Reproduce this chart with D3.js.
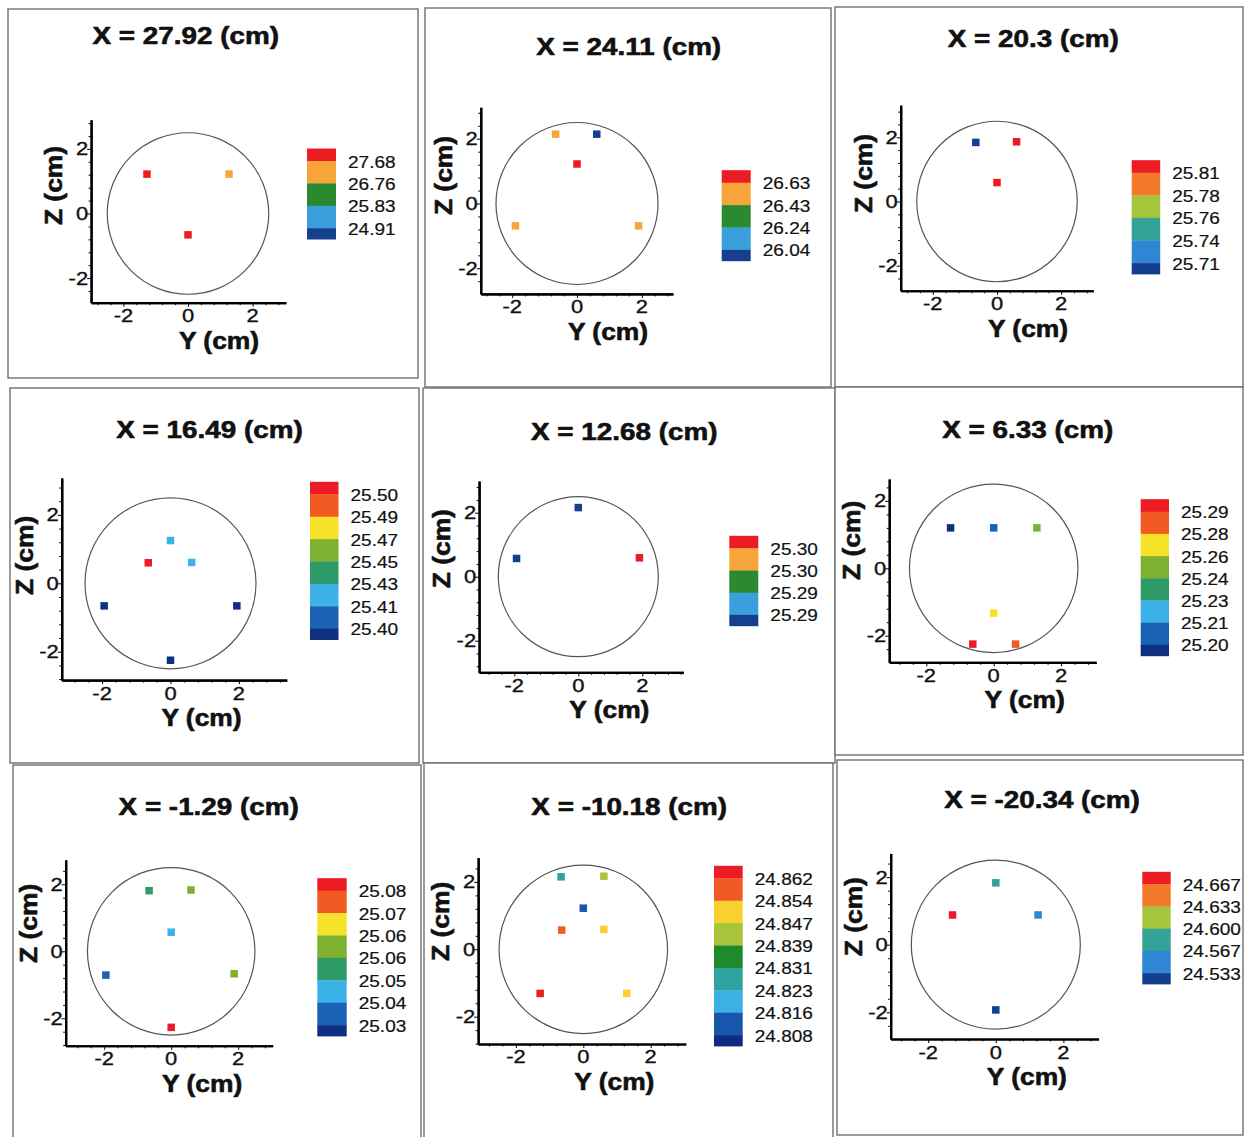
<!DOCTYPE html>
<html>
<head>
<meta charset="utf-8">
<script src="https://cdn.jsdelivr.net/npm/d3@7"></script>
<style>
  html, body { margin: 0; padding: 0; background: #ffffff; }
  svg { display: block; }
  text { font-family: "Liberation Sans", Arial, Helvetica, sans-serif; fill: #111; }
</style>
</head>
<body>
<svg id="chart" width="1249" height="1137"></svg>
<script>
// Axial station of each cross-section (cm)
const stationX = [27.92, 24.11, 20.3, 16.49, 12.68, 6.33, -1.29, -10.18, -20.34];

// Contour legend levels, top to bottom, and the decimals shown for each legend
const legendLevels = [
  [27.68, 26.76, 25.83, 24.91],
  [26.63, 26.43, 26.24, 26.04],
  [25.81, 25.78, 25.76, 25.74, 25.71],
  [25.502, 25.486, 25.467, 25.448, 25.429, 25.412, 25.401],
  [25.302, 25.297, 25.292, 25.287],
  [25.290, 25.276, 25.258, 25.243, 25.228, 25.213, 25.198],
  [25.081, 25.073, 25.064, 25.056, 25.047, 25.039, 25.030],
  [24.862, 24.854, 24.847, 24.839, 24.831, 24.823, 24.816, 24.808],
  [24.667, 24.633, 24.600, 24.567, 24.533]
];
const levelDecimals = [2, 2, 2, 2, 2, 2, 2, 3, 3];

// Probe positions in the section plane (cm) and measured values
const probeY = [
  [-1.27, 1.27, 0],
  [-0.66, 0.61, 0, -1.9, 1.9],
  [-0.66, 0.61, 0],
  [0, -0.65, 0.62, -1.94, 1.94, 0],
  [0, -1.93, 1.91],
  [-1.28, 0, 1.28, 0, -0.62, 0.65],
  [-0.66, 0.59, 0, -1.95, 1.88, 0],
  [-0.66, 0.61, 0, -0.64, 0.61, -1.28, 1.29],
  [0, -1.28, 1.25, 0]
];
const probeZ = [
  [1.22, 1.22, -0.66],
  [2.14, 2.14, 1.22, -0.69, -0.69],
  [1.84, 1.86, 0.59],
  [1.25, 0.6, 0.61, -0.66, -0.66, -2.25],
  [2.16, 0.57, 0.59],
  [1.2, 1.2, 1.2, -1.33, -2.25, -2.25],
  [1.81, 1.83, 0.57, -0.71, -0.67, -2.27],
  [2.15, 2.17, 1.22, 0.57, 0.59, -1.31, -1.31],
  [1.83, 0.88, 0.88, -1.93]
];
const probeValue = [
  [27.95, 27.31, 28.02],
  [26.52, 25.98, 26.71, 26.55, 26.49],
  [25.69, 25.83, 25.82],
  [25.420, 25.510, 25.421, 25.396, 25.394, 25.398],
  [25.284, 25.285, 25.305],
  [25.195, 25.205, 25.250, 25.267, 25.293, 25.283],
  [25.051, 25.060, 25.043, 25.034, 25.059, 25.084],
  [24.827, 24.843, 24.812, 24.858, 24.850, 24.865, 24.851],
  [24.585, 24.672, 24.550, 24.520]
];

const pipeRadius = 2.5;        // cm
const majorTicks = [-2, 0, 2];
const minorStep = 0.4;

// Band palettes, lowest band first
const palettes = {
  5: ["#153f8f", "#3a9fdb", "#2b8a2f", "#f7a43a", "#ed1c24"],
  6: ["#143f8e", "#2f86d4", "#34a296", "#a5c63a", "#f37a2a", "#ed1c24"],
  8: ["#0f2f80", "#1a62b4", "#3cb2e8", "#2e9a68", "#7db12f", "#f7e22a", "#f15a22", "#ed1c24"],
  9: ["#0e2c7e", "#1856ae", "#3bb0e3", "#2ea39f", "#1f8a2c", "#a7c43a", "#f9d12e", "#f15a24", "#ed1c24"]
};

// Page layout of the nine frames
const layout = [
  {box: [8, 9, 418, 378],    cx: 188,   cy: 213.5, k: 32.3, yDom: [-3, 3.03],    zDom: [-2.76, 2.9],  title: [185.8, 43.5], leg: {x: 307,    w: 29,   y0: 161,   step: 22.4}},
  {box: [425, 8, 831, 387],  cx: 577,   cy: 203.5, k: 32.4, yDom: [-2.97, 2.96], zDom: [-2.79, 2.97], title: [628.7, 55],   leg: {x: 721.7,  w: 29,   y0: 182.7, step: 22.4}},
  {box: [835, 7, 1243, 387], cx: 997,   cy: 201.5, k: 32.1, yDom: [-3, 3],       zDom: [-2.78, 3.0],  title: [1033.3, 46.7],leg: {x: 1131.7, w: 28.5, y0: 172.7, step: 22.6}},
  {box: [10, 388, 419, 763], cx: 170.5, cy: 583.3, k: 34.2, yDom: [-3.18, 3.4],  zDom: [-2.83, 3.08], title: [209.5, 438.3],leg: {x: 310,    w: 28.5, y0: 494.3, step: 22.4}},
  {box: [423, 388, 835, 763],cx: 578.3, cy: 576.7, k: 32,   yDom: [-3.1, 3.28],  zDom: [-2.99, 2.99], title: [624.2, 440],  leg: {x: 729.3,  w: 29,   y0: 548.3, step: 22.2}},
  {box: [835, 387, 1243, 755],cx: 993.7,cy: 568.3, k: 33.7, yDom: [-3.1, 3.04],  zDom: [-2.79, 2.65], title: [1027.8, 438.3],leg:{x: 1140.7, w: 28.3, y0: 511.7, step: 22.2}},
  {box: [13, 765, 421, 1140],cx: 171.2, cy: 951.3, k: 33.5, yDom: [-3.15, 3.03], zDom: [-2.82, 2.73], title: [208.7, 815],  leg: {x: 317.3,  w: 29.4, y0: 890.7, step: 22.4}},
  {box: [424, 763, 833, 1140],cx: 583.3,cy: 949.3, k: 33.7, yDom: [-3.12, 3.04], zDom: [-2.81, 2.72], title: [629.2, 815],  leg: {x: 714,    w: 28.7, y0: 878.3, step: 22.4}},
  {box: [837, 760, 1243, 1135],cx: 995.8,cy: 944.7,k: 33.8, yDom: [-3.11, 3.04], zDom: [-2.79, 2.7],  title: [1042, 808.3], leg: {x: 1142.3, w: 28.4, y0: 884.3, step: 22.2}}
];

const svg = d3.select("#chart");

// Text helper: glyphs are widened slightly along the reading direction
function addText(g, str, x, y, o) {
  const rot = o.rotate ? ` rotate(${o.rotate})` : "";
  const t = g.append("text")
    .attr("transform", `translate(${x},${y})${rot} scale(${o.sx || 1},1)`)
    .attr("text-anchor", o.anchor || "start")
    .style("font-size", o.size + "px")
    .style("font-weight", o.weight || "normal")
    .text(str);
  if (o.heavy) t.attr("stroke", "#111").attr("stroke-width", o.heavy).attr("stroke-linejoin", "round");
  return t;
}

function styleAxis(sel) {
  sel.select(".domain").attr("stroke", "#000").attr("stroke-width", 2.2);
  sel.selectAll(".tick line").attr("stroke", "#000").attr("stroke-width", 1);
}

layout.forEach((L, i) => {
  const g = svg.append("g");
  const [bx0, by0, bx1, by1] = L.box;

  // frame
  g.append("rect")
    .attr("x", bx0).attr("y", by0)
    .attr("width", bx1 - bx0).attr("height", by1 - by0)
    .attr("fill", "#fff").attr("stroke", "#707070").attr("stroke-width", 1.4);

  // scales
  const ys = d3.scaleLinear().domain(L.yDom)
    .range([L.cx + L.yDom[0] * L.k, L.cx + L.yDom[1] * L.k]);
  const zs = d3.scaleLinear().domain(L.zDom)
    .range([L.cy - L.zDom[0] * L.k, L.cy - L.zDom[1] * L.k]);
  const axisYpos = zs(L.zDom[0]);
  const axisXpos = ys(L.yDom[0]);

  const minorOf = dom => d3.range(Math.ceil(dom[0] / minorStep), Math.floor(dom[1] / minorStep) + 1)
    .map(j => +(j * minorStep).toFixed(2))
    .filter(v => !majorTicks.includes(v));

  // bottom axis (Y)
  g.append("g").attr("transform", `translate(0,${axisYpos})`)
    .call(d3.axisBottom(ys).tickValues(minorOf(L.yDom)).tickSize(2.5).tickSizeOuter(0).tickFormat(""))
    .call(styleAxis);
  g.append("g").attr("transform", `translate(0,${axisYpos})`)
    .call(d3.axisBottom(ys).tickValues(majorTicks).tickSize(4).tickSizeOuter(0).tickFormat(""))
    .call(styleAxis);

  // left axis (Z)
  g.append("g").attr("transform", `translate(${axisXpos},0)`)
    .call(d3.axisLeft(zs).tickValues(minorOf(L.zDom)).tickSize(2.5).tickSizeOuter(0).tickFormat(""))
    .call(styleAxis);
  g.append("g").attr("transform", `translate(${axisXpos},0)`)
    .call(d3.axisLeft(zs).tickValues(majorTicks).tickSize(4).tickSizeOuter(0).tickFormat(""))
    .call(styleAxis);

  // tick labels
  majorTicks.forEach(v => {
    addText(g, String(v), ys(v), axisYpos + 19.5, {size: 18, sx: 1.22, anchor: "middle", heavy: 0.35});
    addText(g, String(v), axisXpos - 3, zs(v) + 6.5, {size: 18, sx: 1.22, anchor: "end", heavy: 0.35});
  });

  // axis titles
  addText(g, "Y (cm)", L.cx + 31, axisYpos + 46, {size: 24, weight: "bold", sx: 1.1, anchor: "middle", heavy: 0.6});
  addText(g, "Z (cm)", axisXpos - 29, L.cy - 28, {size: 24, weight: "bold", sx: 1.1, anchor: "middle", rotate: -90, heavy: 0.6});

  // panel title
  addText(g, `X = ${stationX[i]} (cm)`, L.title[0], L.title[1], {size: 24, weight: "bold", sx: 1.16, anchor: "middle", heavy: 0.6});

  // pipe wall
  g.append("circle")
    .attr("cx", ys(0)).attr("cy", zs(0))
    .attr("r", ys(pipeRadius) - ys(0))
    .attr("fill", "none").attr("stroke", "#555").attr("stroke-width", 1.2);

  // colour bands
  const levels = legendLevels[i];
  const asc = levels.slice().reverse();
  const colors = palettes[levels.length + 1];
  const color = d3.scaleThreshold().domain(asc).range(colors);

  // probes
  const pts = probeY[i].map((y, j) => ({y, z: probeZ[i][j], v: probeValue[i][j]}));
  const s = 7.5;
  g.selectAll("rect.probe").data(pts).enter().append("rect")
    .attr("class", "probe")
    .attr("x", d => ys(d.y) - s / 2).attr("y", d => zs(d.z) - s / 2)
    .attr("width", s).attr("height", s)
    .attr("fill", d => color(d.v));

  // legend: boundaries sit at each level label
  const Lg = L.leg;
  const ly = d3.scaleLinear().domain([0, 1]).range([Lg.y0, Lg.y0 + Lg.step]);
  const n = levels.length;
  const topEdge = ly(0) - 12.5, botEdge = ly(n - 1) + 11;
  const bandsTopDown = colors.slice().reverse();
  bandsTopDown.forEach((c, b) => {
    const yA = b === 0 ? topEdge : ly(b - 1);
    const yB = b === n ? botEdge : ly(b);
    g.append("rect").attr("x", Lg.x).attr("y", yA)
      .attr("width", Lg.w).attr("height", yB - yA + 0.3)
      .attr("fill", c);
  });
  levels.forEach((v, b) => {
    addText(g, v.toFixed(levelDecimals[i]), Lg.x + Lg.w + 12, ly(b) + 6.5, {size: 17, sx: 1.12, anchor: "start", heavy: 0.2});
  });
});
</script>
</body>
</html>
